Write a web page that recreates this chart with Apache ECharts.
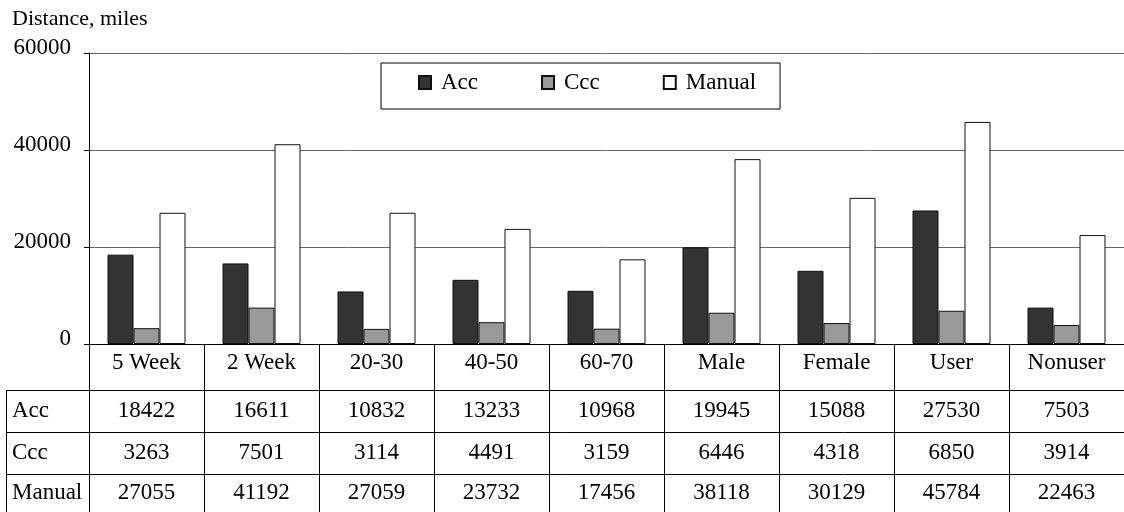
<!DOCTYPE html>
<html><head><meta charset="utf-8">
<script src="https://cdn.jsdelivr.net/npm/echarts@6/dist/echarts.min.js"></script>
<style>html,body{margin:0;padding:0;background:#fff}#c{width:1124px;height:512px}</style>
</head><body><div id="c"></div>
<script>
const categories = ['5 Week', '2 Week', '20-30', '40-50', '60-70', 'Male', 'Female', 'User', 'Nonuser'];
const accValues = [18422, 16611, 10832, 13233, 10968, 19945, 15088, 27530, 7503];
const cccValues = [3263, 7501, 3114, 4491, 3159, 6446, 4318, 6850, 3914];
const manualValues = [27055, 41192, 27059, 23732, 17456, 38118, 30129, 45784, 22463];
const seriesNames = ['Acc', 'Ccc', 'Manual'];
const yAxisTitle = 'Distance, miles';

const FONT = 'Liberation Serif';
const seriesData = [accValues, cccValues, manualValues];
const fills = ['#333333', '#999999', '#ffffff'];
const rowOffsets = [46, 88, 130];
const rowMargins = [9, 9, 7];
const rowCenters = [411, 453, 493];

const chart = echarts.init(document.getElementById('c'), null, {renderer: 'canvas'});

const xAxes = [{
  type: 'category', data: categories, gridIndex: 0, position: 'bottom',
  axisLine: {show: true, lineStyle: {color: '#000', width: 1}},
  axisTick: {show: true, length: 170, interval: 0, lineStyle: {color: '#000', width: 1}},
  axisLabel: {interval: 0, margin: 7, color: '#000', fontFamily: FONT, fontSize: 23},
  splitLine: {show: false}
}];
seriesData.forEach((vals, i) => {
  xAxes.push({
    type: 'category', data: vals.map(String), gridIndex: 0, position: 'bottom', offset: rowOffsets[i],
    axisLine: {show: false}, axisTick: {show: false}, splitLine: {show: false},
    axisLabel: {interval: 0, margin: rowMargins[i], color: '#000', fontFamily: FONT, fontSize: 23}
  });
});

const tableLines = [];
[390, 432, 474].forEach(y => tableLines.push({
  type: 'line', shape: {x1: 6.5, y1: y + 0.5, x2: 1124, y2: y + 0.5},
  style: {stroke: '#000', lineWidth: 1}, silent: true
}));
tableLines.push({
  type: 'line', shape: {x1: 6.5, y1: 390, x2: 6.5, y2: 512},
  style: {stroke: '#000', lineWidth: 1}, silent: true
});
seriesNames.forEach((n, i) => tableLines.push({
  type: 'text', x: 12, y: rowCenters[i],
  style: {text: n, font: '23px "' + FONT + '"', fill: '#000', textVerticalAlign: 'middle', textAlign: 'left'},
  silent: true
}));

chart.setOption({
  animation: false,
  backgroundColor: '#fff',
  textStyle: {fontFamily: FONT},
  title: {
    text: yAxisTitle, left: 7, top: 3,
    textStyle: {fontFamily: FONT, fontSize: 22, fontWeight: 'normal', color: '#000'}
  },
  legend: {
    data: seriesNames.map(n => ({name: n, icon: 'rect'})), left: 381, top: 63,
    orient: 'horizontal',
    itemWidth: 12, itemHeight: 13, itemGap: 63,
    padding: [8, 24, 15, 37],
    borderColor: '#000', borderWidth: 1,
    textStyle: {fontFamily: FONT, fontSize: 23, color: '#000', padding: [0, 0, 3, 5]},
    selectedMode: false
  },
  grid: {left: 89, top: 53, width: 1038, bottom: 168, containLabel: false},
  xAxis: xAxes,
  yAxis: {
    type: 'value', min: 0, max: 60000, interval: 20000,
    axisLine: {show: true, lineStyle: {color: '#000', width: 1}},
    axisTick: {show: true, length: 5, lineStyle: {color: '#000'}},
    axisLabel: {
      margin: 18, color: '#000', fontFamily: FONT,
      formatter: v => '{v|' + v + '}\n{s|}',
      rich: {
        v: {fontFamily: FONT, fontSize: 23, lineHeight: 23, color: '#000'},
        s: {height: 10, lineHeight: 10, fontSize: 10}
      }
    },
    splitLine: {show: true, lineStyle: {color: '#666', width: 1}}
  },
  series: seriesNames.map((n, i) => ({
    name: n, type: 'bar', xAxisIndex: 0, data: seriesData[i],
    barWidth: 26, barGap: '0%',
    itemStyle: {color: fills[i], borderColor: '#111', borderWidth: 1}
  })),
  graphic: tableLines
});
</script>
</body></html>
